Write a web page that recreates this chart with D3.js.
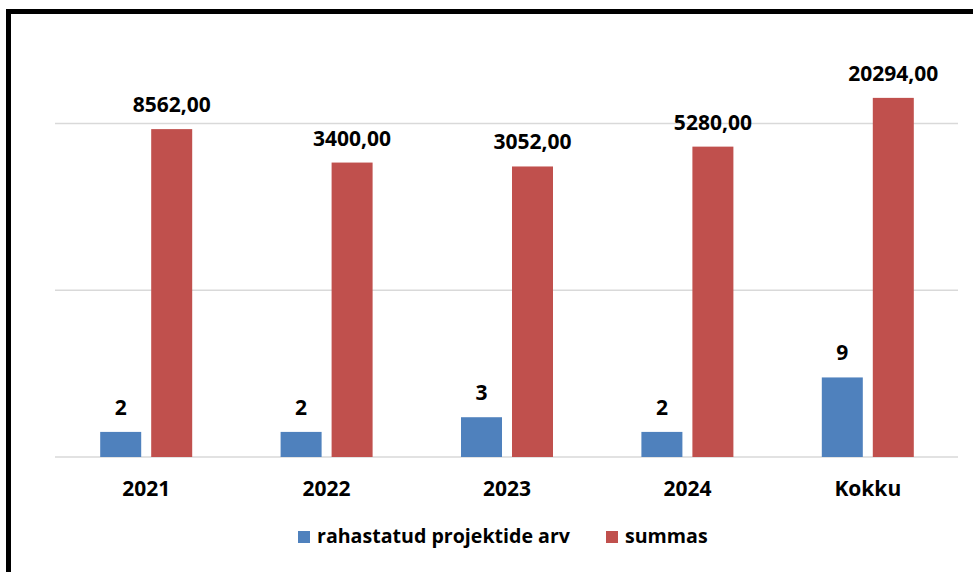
<!DOCTYPE html>
<html>
<head>
<meta charset="utf-8">
<script src="https://cdn.jsdelivr.net/npm/d3@7"></script>
<style>
	body { margin: 0; background: #fff; }
	svg { display: block; }
	text { font-family: 'Open Sans', sans-serif; font-weight: bold; fill: #000; }
</style>
</head>
<body>
<svg id="chart" width="973" height="572"></svg>
<script>
const categories = ['2021', '2022', '2023', '2024', 'Kokku'];
const seriesNames = ['rahastatud projektide arv', 'summas'];
const projectCounts = [2, 2, 3, 2, 9];
const sums = [8562, 3400, 3052, 5280, 20294];
const gridTicks = [1, 100, 10000];

const colors = ['#4f81bd', '#c0504d'];

const width = 973;
const height = 572;

const $svg = d3.select('#chart');

const x = d3.scaleBand()
	.domain(categories)
	.range([56, 958]);

const groupW = 92;
const x1 = d3.scaleBand()
	.domain(seriesNames)
	.range([x.bandwidth() / 2 - groupW / 2, x.bandwidth() / 2 + groupW / 2])
	.paddingInner(0.196);

// log axis, origin at 1
const y = d3.scaleLog()
	.domain([1, 10000])
	.range([457, 123.5]);

const fmtSum = d => d3.format('.2f')(d).replace('.', ',');

const rows = categories.map((c, i) => ({
	cat: c,
	values: [
		{ key: seriesNames[0], value: projectCounts[i], label: String(projectCounts[i]) },
		{ key: seriesNames[1], value: sums[i], label: fmtSum(sums[i]) }
	]
}));

function drawGrid() {
	$svg.append('g')
		.selectAll('line')
		.data(gridTicks)
		.enter()
		.append('line')
		.attr('x1', 55)
		.attr('x2', 958)
		.attr('y1', d => y(d))
		.attr('y2', d => y(d))
		.attr('stroke', '#d9d9d9')
		.attr('stroke-width', 1.5);
}

function drawBars() {
	const $group = $svg.append('g')
		.selectAll('g')
		.data(rows)
		.enter()
		.append('g')
		.attr('transform', d => `translate(${x(d.cat)},0)`);

	$group.selectAll('rect')
		.data(d => d.values)
		.enter()
		.append('rect')
		.attr('x', d => x1(d.key))
		.attr('width', x1.bandwidth())
		.attr('y', d => y(d.value))
		.attr('height', d => y(1) - y(d.value))
		.attr('fill', (d, i) => colors[i]);

	$group.selectAll('text')
		.data(d => d.values)
		.enter()
		.append('text')
		.attr('x', d => x1(d.key) + x1.bandwidth() / 2)
		.attr('y', d => y(d.value) - 17)
		.attr('text-anchor', 'middle')
		.style('font-size', '21px')
		.text(d => d.label);
}

function drawAxis() {
	$svg.append('g')
		.selectAll('text')
		.data(categories)
		.enter()
		.append('text')
		.attr('x', d => x(d) + x.bandwidth() / 2)
		.attr('y', 496)
		.attr('text-anchor', 'middle')
		.style('font-size', '21px')
		.text(d => d);
}

function drawLegend() {
	const pos = [298, 606];
	const $item = $svg.append('g')
		.selectAll('g')
		.data(seriesNames)
		.enter()
		.append('g')
		.attr('transform', (d, i) => `translate(${pos[i]},531)`);

	$item.append('rect')
		.attr('width', 12)
		.attr('height', 12)
		.attr('fill', (d, i) => colors[i]);

	$item.append('text')
		.attr('x', 19)
		.attr('y', 12)
		.style('font-size', '19.6px')
		.text(d => d);
}

function drawFrame() {
	$svg.append('path')
		.attr('d', `M8.5,${height}V11.5H${width}`)
		.attr('fill', 'none')
		.attr('stroke', '#000')
		.attr('stroke-width', 5);
}

drawGrid();
drawBars();
drawAxis();
drawLegend();
drawFrame();
</script>
</body>
</html>
